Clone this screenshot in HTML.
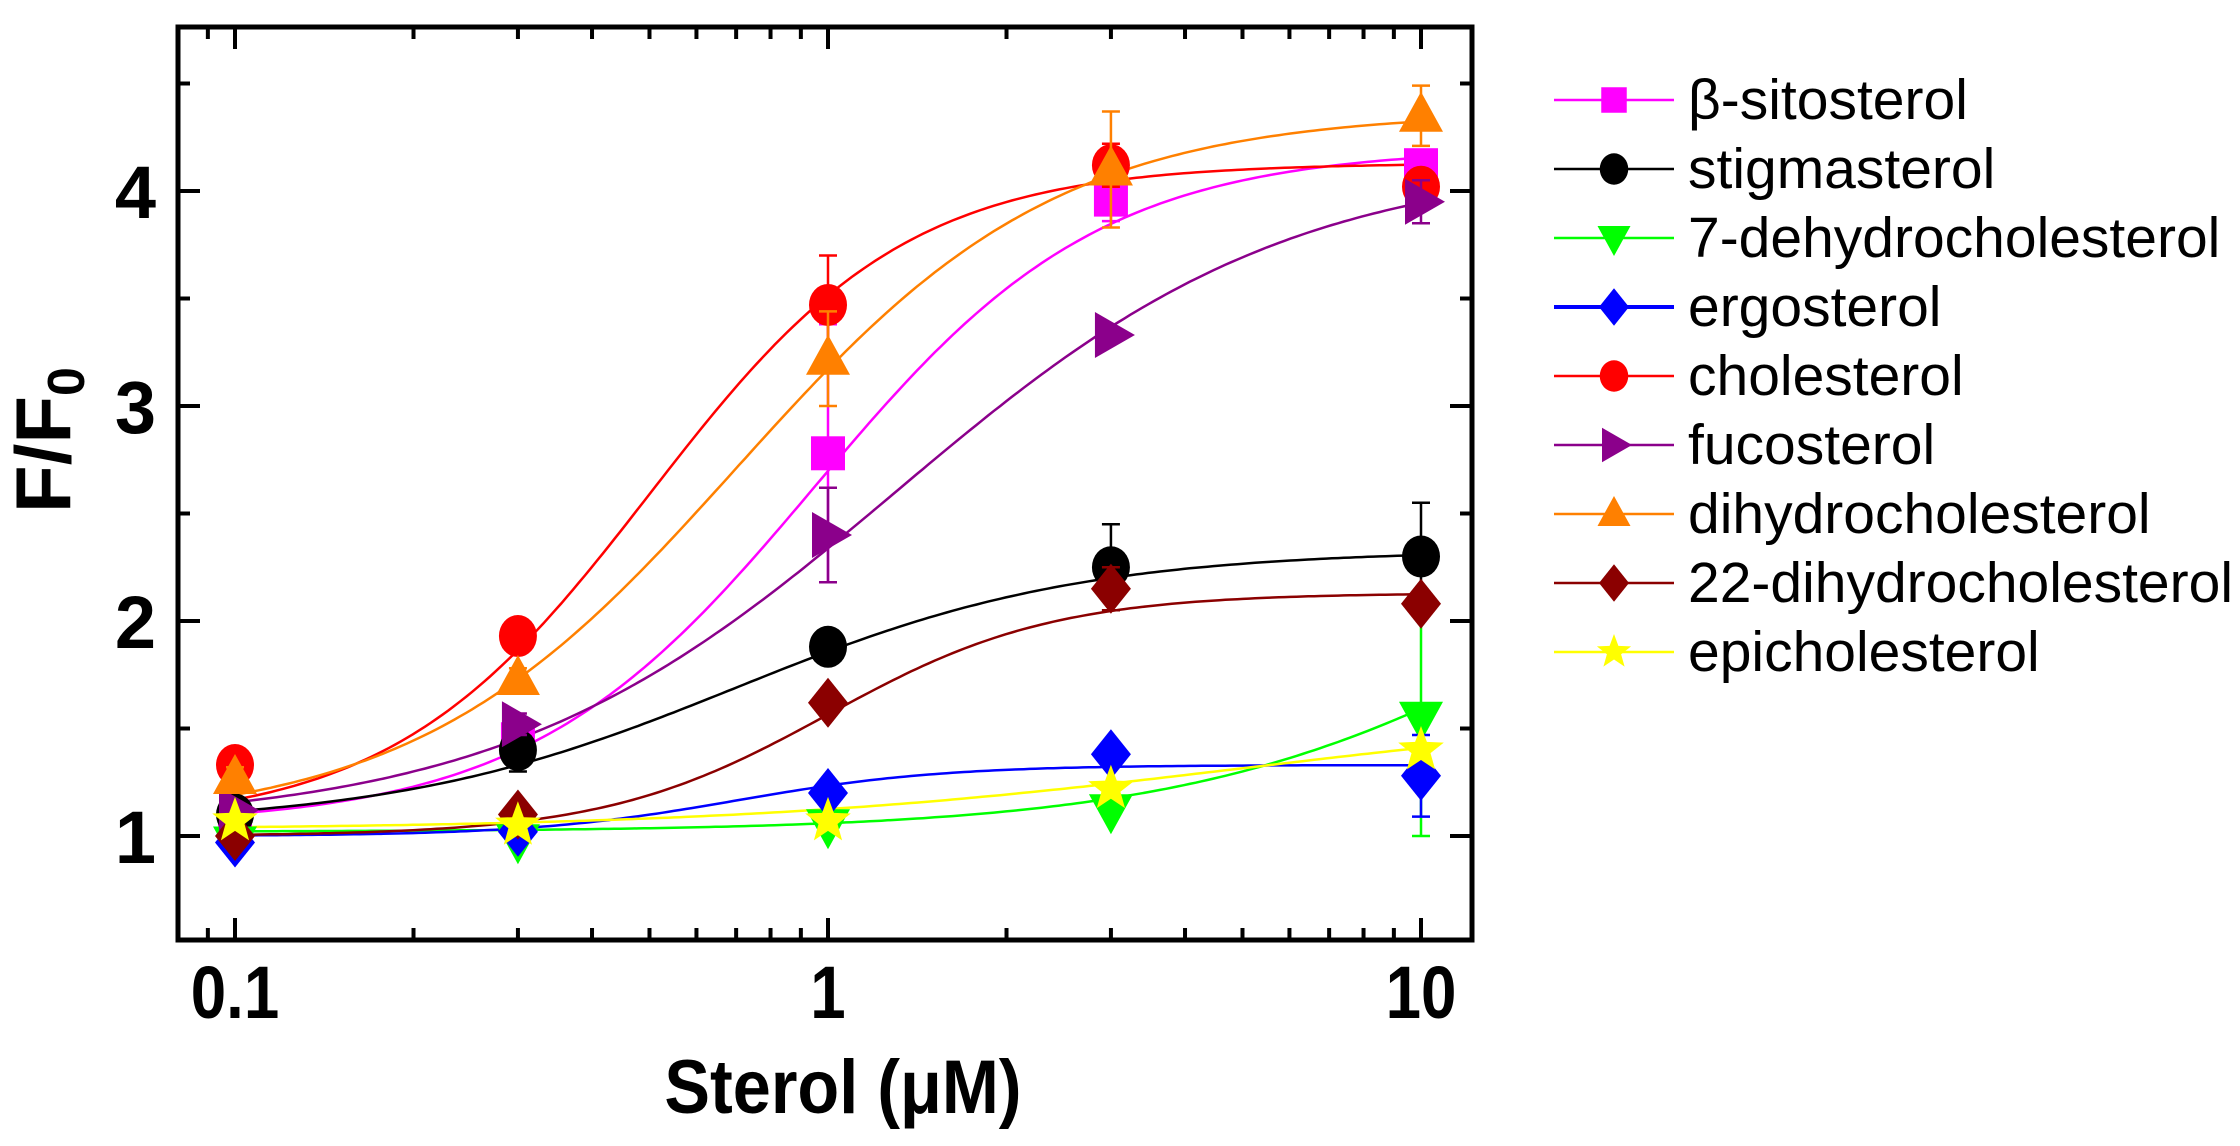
<!DOCTYPE html>
<html><head><meta charset="utf-8"><style>
html,body{margin:0;padding:0;background:#fff;}
svg{display:block;}
text{font-family:"Liberation Sans",sans-serif;}
</style></head><body>
<svg id="chart" width="2240" height="1146" viewBox="0 0 2240 1146" xmlns="http://www.w3.org/2000/svg">
<g id="plot"></g>
<g id="axes"></g>
<g id="legend"></g>
</svg>
<script>
const xValues=[0.1,0.3,1,3,10];
const seriesNames=["β-sitosterol","stigmasterol","7-dehydrocholesterol","ergosterol","cholesterol","fucosterol","dihydrocholesterol","22-dihydrocholesterol","epicholesterol"];
const seriesColors=["#ff00ff","#000000","#00ff00","#0000ff","#ff0000","#8b008b","#ff8000","#8b0000","#ffff00"];
const seriesMarkers=["square","circle","tridown","diamond","circle","triright","triup","diamond","star"];
const sitosterolY=[1.05,1.45,2.78,3.96,4.12];
const stigmasterolY=[1.1,1.4,1.88,2.25,2.3];
const dehydroY=[0.97,0.98,1.05,1.12,1.55];
const ergosterolY=[0.97,1.02,1.2,1.38,1.28];
const cholesterolY=[1.33,1.93,3.47,4.12,4.02];
const fucosterolY=[1.12,1.52,2.4,3.33,3.95];
const dihydroY=[1.27,1.73,3.22,4.1,4.35];
const dihydro22Y=[1.0,1.1,1.62,2.15,2.08];
const epicholY=[1.07,1.05,1.07,1.22,1.4];
const seriesY=[sitosterolY,stigmasterolY,dehydroY,ergosterolY,cholesterolY,fucosterolY,dihydroY,dihydro22Y,epicholY];
const sitosterolErr=[0.03,0.05,0.6,0.1,0.05];
const stigmasterolErr=[0.03,0.1,0.03,0.2,0.25];
const dehydroErr=[0.02,0.02,0.03,0.03,0.55];
const ergosterolErr=[0.02,0.03,0.03,0.03,0.19];
const cholesterolErr=[0.05,0.08,0.23,0.1,0.05];
const fucosterolErr=[0.03,0.05,0.22,0.03,0.1];
const dihydroErr=[0.05,0.05,0.22,0.27,0.14];
const dihydro22Err=[0.02,0.03,0.03,0.1,0.05];
const epicholErr=[0.02,0.02,0.02,0.03,0.03];
const seriesErr=[sitosterolErr,stigmasterolErr,dehydroErr,ergosterolErr,cholesterolErr,fucosterolErr,dihydroErr,dihydro22Err,epicholErr];
// Hill fit parameters: A1, A2, x0, p
const fitA1=[1.05,1.05,1.02,1.0,1.05,1.05,1.05,1.0,1.03];
const fitA2=[4.2,2.33,3.0,1.33,4.13,4.15,4.37,2.13,1.6];
const fitX0=[0.95,0.7,20,0.7,0.5,1.3,0.7,1.0,5];
const fitP=[1.8,1.5,1.3,2.5,2.0,1.3,1.6,2.3,1.0];
const xTickLabels=["0.1","1","10"];
const xTickVals=[0.1,1,10];
const yTickVals=[1,2,3,4];

const NS="http://www.w3.org/2000/svg";
const L=178,R=1472,T=27,B=940;
function sx(v){return 235+593*Math.log10(v/0.1);}
function sy(v){return 191+(4-v)*215;}
function mk(tag,attrs,parent){const e=document.createElementNS(NS,tag);for(const k in attrs)e.setAttribute(k,attrs[k]);parent.appendChild(e);return e;}
const plot=document.getElementById('plot'),axes=document.getElementById('axes'),legend=document.getElementById('legend');

function marker(type,cx,cy,col,parent,s){
  let e;
  if(type==="square"){e=mk('rect',{x:cx-s*0.85,y:cy-s*0.85,width:s*1.7,height:s*1.7,fill:col},parent);}
  else if(type==="circle"){e=mk('ellipse',{cx:cx,cy:cy,rx:s*0.95,ry:s*1.05,fill:col},parent);}
  else if(type==="diamond"){e=mk('polygon',{points:`${cx},${cy-s*1.25} ${cx+s},${cy} ${cx},${cy+s*1.25} ${cx-s},${cy}`,fill:col},parent);}
  else if(type==="tridown"){e=mk('polygon',{points:`${cx-s*1.1},${cy-s*0.8} ${cx+s*1.1},${cy-s*0.8} ${cx},${cy+s*1.2}`,fill:col},parent);}
  else if(type==="triup"){e=mk('polygon',{points:`${cx-s*1.1},${cy+s*0.8} ${cx+s*1.1},${cy+s*0.8} ${cx},${cy-s*1.2}`,fill:col},parent);}
  else if(type==="triright"){e=mk('polygon',{points:`${cx-s*0.8},${cy-s*1.15} ${cx-s*0.8},${cy+s*1.15} ${cx+s*1.2},${cy}`,fill:col},parent);}
  else {let p=[];for(let i=0;i<10;i++){const r=i%2?s*0.5:s*1.2;const a=-Math.PI/2+i*Math.PI/5;p.push((cx+r*Math.cos(a)).toFixed(1)+","+(cy+r*Math.sin(a)).toFixed(1));}
    e=mk('polygon',{points:p.join(' '),fill:col},parent);}
  return e;
}

for(let i=0;i<seriesNames.length;i++){
  const g=mk('g',{},plot);
  
  
  let d="";
  for(let k=0;k<=200;k++){const lx=-1+2*k/200;const x=Math.pow(10,lx);
    const y=fitA1[i]+(fitA2[i]-fitA1[i])/(1+Math.pow(fitX0[i]/x,fitP[i]));
    d+=(k?"L":"M")+sx(x).toFixed(1)+","+sy(y).toFixed(1);}
  const c=mk('path',{d:d,fill:'none',stroke:seriesColors[i],'stroke-width':2.5},g);
  
  
}
for(let i=0;i<seriesNames.length;i++){
  const g=mk('g',{},plot);
  
  
  xValues.forEach((xv,j)=>{
    const cx=sx(xv),cy=sy(seriesY[i][j]),e=seriesErr[i][j];
    const eb=mk('path',{d:`M${cx},${sy(seriesY[i][j]+e)}V${sy(seriesY[i][j]-e)}M${cx-9},${sy(seriesY[i][j]+e)}h18M${cx-9},${sy(seriesY[i][j]-e)}h18`,stroke:seriesColors[i],'stroke-width':2.5,fill:'none'},g);
    
    
    const m=marker(seriesMarkers[i],cx,cy,seriesColors[i],g,20);
    
    
  });
}

const fr=mk('rect',{x:L,y:T,width:R-L,height:B-T,fill:'none',stroke:'#000','stroke-width':5},axes);


let tk="";
for(let dec=0.01;dec<=10;dec*=10){for(let m=1;m<10;m++){const v=+(dec*m).toPrecision(3);const x=sx(v);if(x<L+3||x>R-3)continue;
  const major=(m===1);const len=major?22:12;
  tk+=`M${x},${B}v${-len}M${x},${T}v${len}`;}}
for(let v=0.5;v<=4.5;v+=0.5){const y=sy(v);if(y<T+3||y>B-3)continue;const len=(v%1===0)?22:12;
  tk+=`M${L},${y}h${len}M${R},${y}h${-len}`;}
const ticks=mk('path',{d:tk,stroke:'#000','stroke-width':4,fill:'none'},axes);


xTickVals.forEach((v,i)=>{
  const t=mk('text',{x:sx(v),y:1018,'text-anchor':'middle','font-size':74,'font-weight':'bold',transform:`translate(${sx(v)},0) scale(0.86,1) translate(${-sx(v)},0)`},axes);
  t.textContent=xTickLabels[i];
  
  
});
yTickVals.forEach(v=>{
  const t=mk('text',{x:156,y:sy(v)+27,'text-anchor':'end','font-size':74,'font-weight':'bold'},axes);
  t.textContent=String(v);
  
  
});
const xt=mk('text',{x:843,y:1113,'text-anchor':'middle','font-size':76,'font-weight':'bold',transform:'translate(843,0) scale(0.9,1) translate(-843,0)'},axes);
xt.textContent="Sterol (μM)";


const yt=mk('text',{x:0,y:0,'text-anchor':'middle','font-size':78,'font-weight':'bold',transform:'translate(70,440) rotate(-90)'},axes);
yt.innerHTML='F/F<tspan font-size="52" dy="14">0</tspan>';



seriesNames.forEach((n,i)=>{
  const y=100+69*i;
  const g=mk('g',{},legend);
  
  
  mk('line',{x1:1554,x2:1674,y1:y,y2:y,stroke:seriesColors[i],'stroke-width':i===3?4:2.5},g);
  marker(seriesMarkers[i],1614,y,seriesColors[i],g,15);
  const t=mk('text',{x:1688,y:y+19,'font-size':57},g);
  t.textContent=n;
});
</script>
</body></html>
